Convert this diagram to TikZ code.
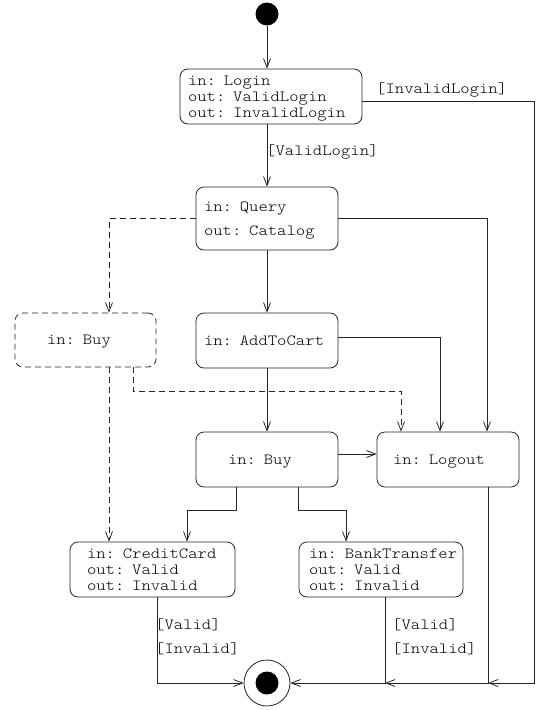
\documentclass[tikz,border=0pt]{standalone}
\usepackage{fontspec}
\setmonofont{Latin Modern Mono Light}[FakeStretch=1.15]
\usetikzlibrary{arrows.meta,calc}
\newcommand{\mylines}[1]{\raisebox{-1.3pt}[\height][\depth]{\begin{tabular}{@{}l@{}}#1\end{tabular}}}
\begin{document}
\begin{tikzpicture}[x=1pt,y=-1pt,
  every node/.style={font=\ttfamily\fontsize{15.5}{16}\selectfont},
  line/.style={draw=black!85, line width=0.8pt},
  arr/.style={line, -{Straight Barb[length=9pt,width=7pt]}},
  dsh/.style={dash pattern=on 6pt off 4pt},
  state/.style={line, rounded corners=8pt, inner ysep=0pt, align=left, minimum height=55pt},
  lbl/.style={anchor=base west, inner sep=0pt},
  dot/.style={circle, fill=black, inner sep=0pt, minimum size=23pt}
]
\useasboundingbox (0,0) rectangle (540,710);

% nodes
\node[dot] (start) at (267,14) {};
\node[state, text width=166pt, inner xsep=8pt] (login) at (271,96.5)
  {\mylines{in: Login\\ out: ValidLogin\\ out: InvalidLogin}};
\node[state, text width=126pt, inner xsep=8pt, minimum height=63pt] (query) at (267,218.5)
  {\mylines{in: Query\\[8pt] out: Catalog}};
\node[state, dsh, text width=77pt, inner xsep=32pt, minimum height=54pt] (dbuy) at (85.5,340)
  {\mylines{in: Buy}};
\node[state, text width=126pt, inner xsep=8pt] (atc) at (267,340.5)
  {\mylines{in: AddToCart}};
\node[state, text width=78pt, inner xsep=32pt] (buy) at (267,459.5)
  {\mylines{in: Buy}};
\node[state, text width=110pt, inner xsep=16pt] (logout) at (448,459.5)
  {\mylines{in: Logout}};
\node[state, text width=131pt, inner xsep=17pt] (cc) at (152.5,569.5)
  {\mylines{in: CreditCard\\ out: Valid\\ out: Invalid}};
\node[state, text width=144pt, inner xsep=10pt] (bt) at (381,569.5)
  {\mylines{in: BankTransfer\\ out: Valid\\ out: Invalid}};
\node[circle, line, inner sep=0pt, minimum size=46pt] (final) at (267,683) {};
\node[dot] (finaldot) at (final.center) {};

% helper coordinates
\coordinate (rail) at (534,101);
\coordinate (lt1) at ($(logout.north)+(-47,0)$);
\coordinate (lt2) at ($(logout.north)+(-8,0)$);
\coordinate (lt3) at ($(logout.north)+(39,0)$);
\coordinate (lb) at ($(logout.south)+(40,0)$);
\coordinate (dbt) at ($(dbuy.north)+(23.5,0)$);
\coordinate (dbl) at ($(dbuy.south)+(23.5,0)$);
\coordinate (dbr) at ($(dbuy.south)+(47.5,0)$);
\coordinate (bl) at ($(buy.south)+(-31,0)$);
\coordinate (br) at ($(buy.south)+(31,0)$);
\coordinate (ccn) at ($(cc.north)+(34.5,0)$);
\coordinate (btn) at ($(bt.north)+(-35,0)$);
\coordinate (ccs) at ($(cc.south)+(4.5,0)$);
\coordinate (bts) at ($(bt.south)+(4,0)$);
\coordinate (jl) at (lb |- final);
\coordinate (jb) at (bts |- final);

% connectors
\draw[arr] (start) -- (start |- login.north);
\draw[arr] (query.north |- login.south) -- (query.north);
\draw[arr] (login.east |- rail) -- (rail) |- (jl);
\draw[arr] (query.east) -| (lt3);
\draw[arr] ($(atc.east)+(0,-3.5)$) -| (lt2);
\draw[arr, dsh] (query.west) -| (dbt);
\draw[arr] (query.south) -- (atc.north);
\draw[arr] (atc.south) -- (buy.north);
\draw[arr, dsh] (dbr) |- ($(lt1)+(0,-40)$) -- (lt1);
\draw[arr, dsh] (dbl) -- (dbl |- cc.north);
\draw[arr] ($(buy.east)+(0,-5.5)$) -- ($(logout.west)+(0,-5.5)$);
\draw[arr] (bl) -- ++(0,23) -| (ccn);
\draw[arr] (br) -- ++(0,23) -| (btn);
\draw[arr] (ccs) |- (final.west);
\draw[arr] (bts) |- (final.east);
\draw[arr] (lb) |- (jb);

% labels
\node[lbl] (linv) at (376,93.5) {[InvalidLogin]};
\node[lbl] (lval) at (266,155.5) {[ValidLogin]};
\node[lbl] (ccv) at (155,629) {[Valid]};
\node[lbl] (cci) at (155,653) {[Invalid]};
\node[lbl] (btv) at (392,629) {[Valid]};
\node[lbl] (bti) at (392,653) {[Invalid]};
\end{tikzpicture}
\end{document}
